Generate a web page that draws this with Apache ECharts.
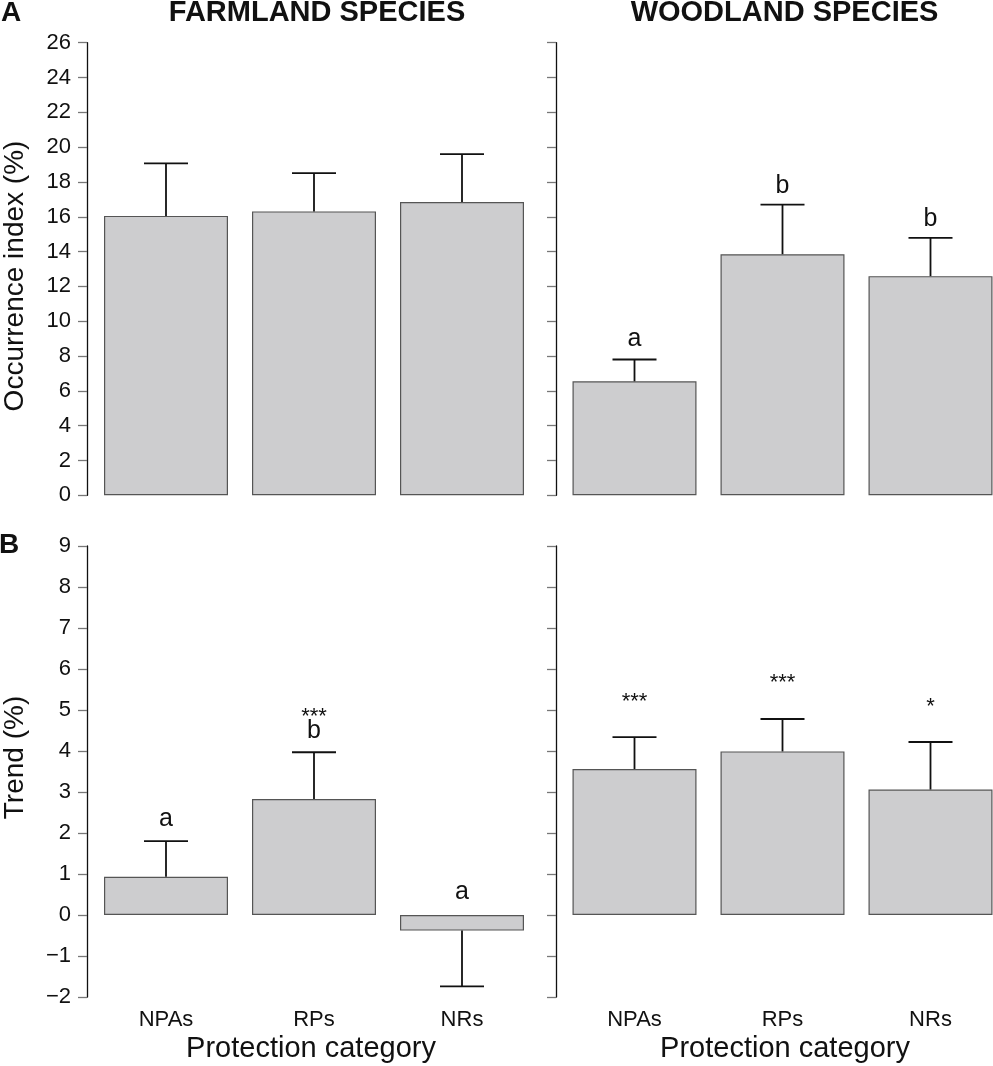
<!DOCTYPE html>
<html><head><meta charset="utf-8">
<script src="https://cdn.jsdelivr.net/npm/echarts@6/dist/echarts.min.js"></script>
<style>html,body{margin:0;padding:0;background:#fff}#c{width:993px;height:1066px}</style>
</head><body><div id="c"></div>
<script>
// ---- data ----
const categories = ['NPAs', 'RPs', 'NRs'];
const occFarmland = [16.05, 16.31, 16.85];
const occFarmlandErr = [19.07, 18.51, 19.60];
const occWoodland = [6.55, 13.85, 12.59];
const occWoodlandErr = [7.80, 16.70, 14.79];
const occWoodlandLetters = ['a', 'b', 'b'];
const occWoodlandLetterY = [8.98, 17.78, 15.89];
const trendFarmland = [0.93, 2.83, -0.38];
const trendFarmlandErr = [1.80, 3.97, -1.74];
const trendFarmlandLetters = ['a', 'b', 'a'];
const trendFarmlandLetterY = [2.33, 4.49, 0.57];
const trendFarmlandStars = ['', '***', ''];
const trendFarmlandStarY = [null, 4.84, null];
const trendWoodland = [3.56, 3.99, 3.06];
const trendWoodlandErr = [4.34, 4.78, 4.22];
const trendWoodlandStars = ['***', '***', '*'];
const trendWoodlandStarY = [5.20, 5.65, 5.08];
const occAxis = { min: 0, max: 26, interval: 2 };
const trendAxis = { min: -2, max: 9, interval: 1 };
const panelTitles = ['FARMLAND SPECIES', 'WOODLAND SPECIES'];
const panelLetters = ['A', 'B'];
const yNames = ['Occurrence index (%)', 'Trend (%)'];
const xName = 'Protection category';

// ---- chart ----
const FONT = '"Liberation Sans", Arial, Helvetica, sans-serif';
const INK = '#111';
const chart = echarts.init(document.getElementById('c'), null, { renderer: 'canvas' });

const BAND = 148;           // px per category slot
const LEFT_X0 = 92, RIGHT_X0 = 560.5;
const RIGHT_W = 993 - RIGHT_X0;
const grids = [
  { left: LEFT_X0, top: 42.7, width: 3 * BAND, height: 452.6 },
  { left: RIGHT_X0, top: 42.7, width: RIGHT_W, height: 452.6 },
  { left: LEFT_X0, top: 546, width: 3 * BAND, height: 451 },
  { left: RIGHT_X0, top: 546, width: RIGHT_W, height: 451 }
];

function xAxisFor(i, showLabels, widthPx) {
  return {
    type: 'value', gridIndex: i, min: -0.5, max: -0.5 + widthPx / BAND,
    axisLine: { show: false, onZero: false }, axisTick: { show: false },
    axisLabel: {
      show: showLabels, customValues: [0, 1, 2], margin: 12, fontSize: 22, color: INK, fontFamily: FONT,
      formatter: v => categories[Math.round(v)] || ''
    },
    splitLine: { show: false }
  };
}
function yAxisFor(i, rng, showLabels, off) {
  return {
    type: 'value', gridIndex: i, min: rng.min, max: rng.max, interval: rng.interval,
    offset: off, position: 'left',
    axisLine: { show: true, onZero: false, lineStyle: { color: INK, width: 1.3 } },
    axisTick: { show: true, length: 9, lineStyle: { color: '#777', width: 1.3 } },
    axisLabel: {
      show: showLabels, margin: 16, fontSize: 22, color: INK, fontFamily: FONT,
      formatter: v => (v < 0 ? '\u2212' + Math.abs(v) : String(v))
    },
    splitLine: { show: false }
  };
}

function barSeries(i, vals) {
  return {
    type: 'bar', xAxisIndex: i, yAxisIndex: i, data: vals.map((v, k) => [k, v]), barWidth: 124,
    itemStyle: { color: '#cdcdcf', borderColor: '#555', borderWidth: 1.2 },
    silent: true
  };
}
function errRender(params, api) {
  const x = api.value(0), v = api.value(1), e = api.value(2);
  const p0 = api.coord([x, v]);
  const p1 = api.coord([x, e]);
  const half = 22;
  const st = { stroke: INK, lineWidth: 1.8 };
  return {
    type: 'group', children: [
      { type: 'line', shape: { x1: p0[0], y1: p0[1], x2: p1[0], y2: p1[1] }, style: st },
      { type: 'line', shape: { x1: p1[0] - half, y1: p1[1], x2: p1[0] + half, y2: p1[1] }, style: st }
    ]
  };
}
function errSeries(i, vals, errs) {
  return {
    type: 'custom', xAxisIndex: i, yAxisIndex: i, renderItem: errRender,
    encode: { x: 0, y: [1, 2] }, z: 5, silent: true,
    data: vals.map((v, k) => [k, v, errs[k]])
  };
}
function annSeries(i, texts, ys, size) {
  const data = [];
  texts.forEach((t, k) => { if (t && ys[k] != null) data.push([k, ys[k], t]); });
  return {
    type: 'scatter', xAxisIndex: i, yAxisIndex: i, symbolSize: 1, z: 6, silent: true,
    itemStyle: { color: 'rgba(0,0,0,0)', opacity: 1 },
    label: {
      show: true, position: 'inside', formatter: p => p.value[2],
      fontSize: size, color: INK, fontFamily: FONT, textBorderWidth: 0
    },
    data: data
  };
}

const txt = (s, x, y, font, rot) => ({
  type: 'text', x: x, y: y, rotation: rot || 0,
  style: { text: s, align: 'center', verticalAlign: 'middle', font: font, fill: INK }
});
const graphic = [
  txt(panelLetters[0], 11, 13, 'bold 28px ' + FONT),
  txt(panelLetters[1], 9, 545, 'bold 28px ' + FONT),
  txt(panelTitles[0], 317, 13, 'bold 29px ' + FONT),
  txt(panelTitles[1], 784.5, 13, 'bold 29px ' + FONT),
  txt(yNames[0], 15, 276, '28px ' + FONT, Math.PI / 2),
  txt(yNames[1], 15, 757.5, '28px ' + FONT, Math.PI / 2),
  txt(xName, 311, 1049, '29px ' + FONT),
  txt(xName, 785, 1049, '29px ' + FONT)
];

chart.setOption({
  animation: false,
  backgroundColor: '#fff',
  grid: grids,
  xAxis: [
    xAxisFor(0, false, 3 * BAND), xAxisFor(1, false, RIGHT_W),
    xAxisFor(2, true, 3 * BAND), xAxisFor(3, true, RIGHT_W)
  ],
  yAxis: [
    yAxisFor(0, occAxis, true, 5),
    yAxisFor(1, occAxis, false, 4.5),
    yAxisFor(2, trendAxis, true, 5),
    yAxisFor(3, trendAxis, false, 4.5)
  ],
  series: [
    barSeries(0, occFarmland), errSeries(0, occFarmland, occFarmlandErr),
    barSeries(1, occWoodland), errSeries(1, occWoodland, occWoodlandErr),
    annSeries(1, occWoodlandLetters, occWoodlandLetterY, 25),
    barSeries(2, trendFarmland), errSeries(2, trendFarmland, trendFarmlandErr),
    annSeries(2, trendFarmlandLetters, trendFarmlandLetterY, 25),
    annSeries(2, trendFarmlandStars, trendFarmlandStarY, 22),
    barSeries(3, trendWoodland), errSeries(3, trendWoodland, trendWoodlandErr),
    annSeries(3, trendWoodlandStars, trendWoodlandStarY, 22)
  ],
  graphic: graphic
});
</script></body></html>
